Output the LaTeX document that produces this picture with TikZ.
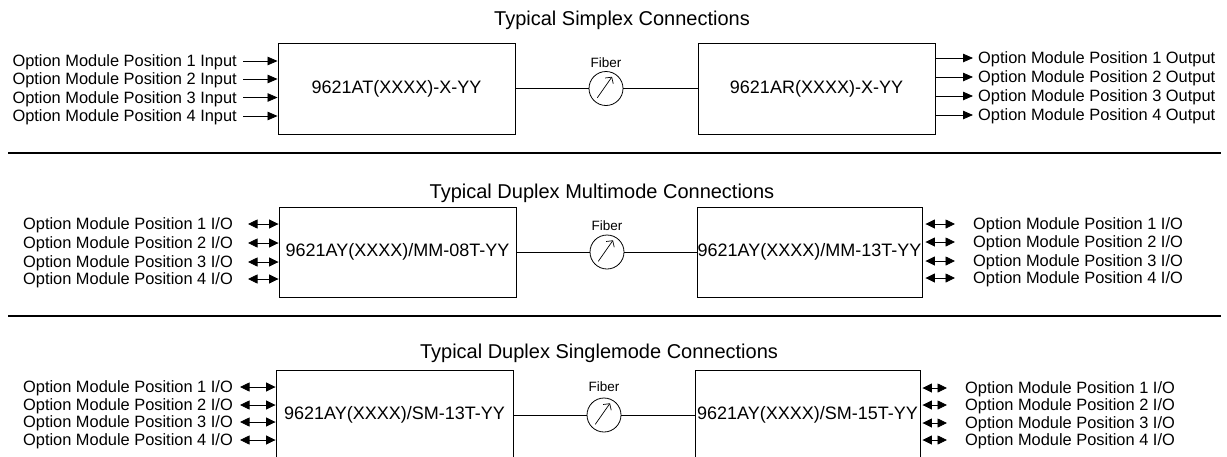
\documentclass[tikz,border=0pt]{standalone}
\usepackage{fontspec}
\setmainfont{Liberation Sans}
\usetikzlibrary{arrows.meta}
\tikzset{
  unitbox/.style={draw, line width=0.9pt, minimum width=237pt, minimum height=91pt, inner sep=0pt, font=\fontsize{18}{20}\selectfont},
  optlabel/.style={inner sep=0pt, text height=11.5pt, text depth=0pt, font=\fontsize{16.4}{18}\selectfont},
  heading/.style={inner sep=0pt, font=\fontsize{20}{24}\selectfont},
  fiberlbl/.style={inner sep=0pt, font=\fontsize{13.5}{15}\selectfont},
  fiberlink/.style={draw, line width=0.8pt, circle, minimum size=34pt, inner sep=0pt},
  sigarrow/.style={line width=0.8pt, -{Triangle[length=10pt,width=8.5pt]}},
  bothway/.style={line width=0.8pt, {Triangle[length=9.5pt,width=9pt]}-{Triangle[length=9.5pt,width=9pt]}},
  meter/.style={line width=0.7pt, -{Straight Barb[length=4.5pt,width=10pt]}},
  divider/.style={line width=1.2pt}
}
\begin{document}
\begin{tikzpicture}[x=1pt,y=-1pt]
\useasboundingbox (0,0) rectangle (1227,456);
\clip (0,0) rectangle (1227,456);
% Simplex
%-----------------------------------------------------------%
  \node[heading] (simplex) at (622,20) {Typical Simplex Connections};
  \node[unitbox] (at) at (396.5,88.5) {9621AT(XXXX)-X-YY};
  \node[unitbox] (ar) at (816.5,88.5) {9621AR(XXXX)-X-YY};
% fiber link
  \node[fiberlink] (f1) at (606,88.5) {};
  \node[fiberlbl] (f1lbl) at (606,63) {Fiber};
  \draw[line width=0.8pt] (at) -- (f1) -- (ar);
  \draw[meter] ([shift={(-8.7,9.3)}]f1.center) -- ([shift={(6,-11.7)}]f1.center);
% inputs
  \foreach \n/\y in {1/61,2/79,3/97.5,4/116}
    { \node[optlabel, anchor=east] (in\n) at (237,\y) {Option Module Position \n\ Input};
      \draw[sigarrow] ([xshift=6pt]in\n.east) -- (in\n.east -| at.west);}
% outputs
  \foreach \n/\y in {1/58,2/77,3/96,4/115}
    { \node[optlabel, anchor=west] (out\n) at (978,\y) {Option Module Position \n\ Output};
      \draw[sigarrow] (out\n.west -| ar.east) -- ([xshift=-5pt]out\n.west);}
%-----------------------------------------------------------%
\coordinate (sepa) at (8,153);
\coordinate (sepb) at (1221,153);
\draw[divider] (sepa) -- (sepb);
% Duplex multimode
%-----------------------------------------------------------%
  \node[heading] (multi) at (602,193) {Typical Duplex Multimode Connections};
  \node[unitbox, minimum height=90pt] (mma) at (397.5,252) {9621AY(XXXX)/MM-08T-YY};
  \node[unitbox, minimum height=90pt, minimum width=225pt] (mmb) at (809.5,252) {9621AY(XXXX)/MM-13T-YY};
% fiber link
  \node[fiberlink] (f2) at (607,252) {};
  \node[fiberlbl] (f2lbl) at (607,226) {Fiber};
  \draw[line width=0.8pt] (mma) -- (f2) -- (mmb);
  \draw[meter] ([shift={(-8.7,9.3)}]f2.center) -- ([shift={(6,-11.7)}]f2.center);
% left I/O
  \foreach \n/\y in {1/224,2/243,3/262,4/279}
    { \node[optlabel, anchor=east] (mml\n) at (233,\y) {Option Module Position \n\ I/O};
      \draw[bothway] ([xshift=15pt]mml\n.east) -- (mml\n.east -| mma.west);}
% right I/O
  \foreach \n/\y in {1/224,2/242,3/261,4/278}
    { \node[optlabel, anchor=west] (mmr\n) at (973,\y) {Option Module Position \n\ I/O};
      \draw[bothway] ([xshift=3pt]mmr\n.west -| mmb.east) -- ([xshift=-18pt]mmr\n.west);}
%-----------------------------------------------------------%
\coordinate (sepc) at (8,316);
\coordinate (sepd) at (1221,316);
\draw[divider] (sepc) -- (sepd);
% Duplex singlemode
%-----------------------------------------------------------%
  \node[heading] (single) at (599,353) {Typical Duplex Singlemode Connections};
  \node[unitbox, minimum height=90pt] (sma) at (394.5,415) {9621AY(XXXX)/SM-13T-YY};
  \node[unitbox, minimum height=90pt, minimum width=225pt] (smb) at (807.5,415) {9621AY(XXXX)/SM-15T-YY};
% fiber link
  \node[fiberlink] (f3) at (604,415) {};
  \node[fiberlbl] (f3lbl) at (604,387) {Fiber};
  \draw[line width=0.8pt] (sma) -- (f3) -- (smb);
  \draw[meter] ([shift={(-8.7,9.3)}]f3.center) -- ([shift={(6,-11.7)}]f3.center);
% left I/O
  \foreach \n/\y in {1/387,2/405,3/422,4/440}
    { \node[optlabel, anchor=east] (sml\n) at (233,\y) {Option Module Position \n\ I/O};
      \draw[bothway] ([xshift=7pt]sml\n.east) -- (sml\n.east -| sma.west);}
% right I/O
  \foreach \n/\y in {1/388,2/405,3/423,4/440}
    { \node[optlabel, anchor=west] (smr\n) at (965,\y) {Option Module Position \n\ I/O};
      \draw[bothway] ([xshift=2pt]smr\n.west -| smb.east) -- ([xshift=-18pt]smr\n.west);}
\end{tikzpicture}
\end{document}
